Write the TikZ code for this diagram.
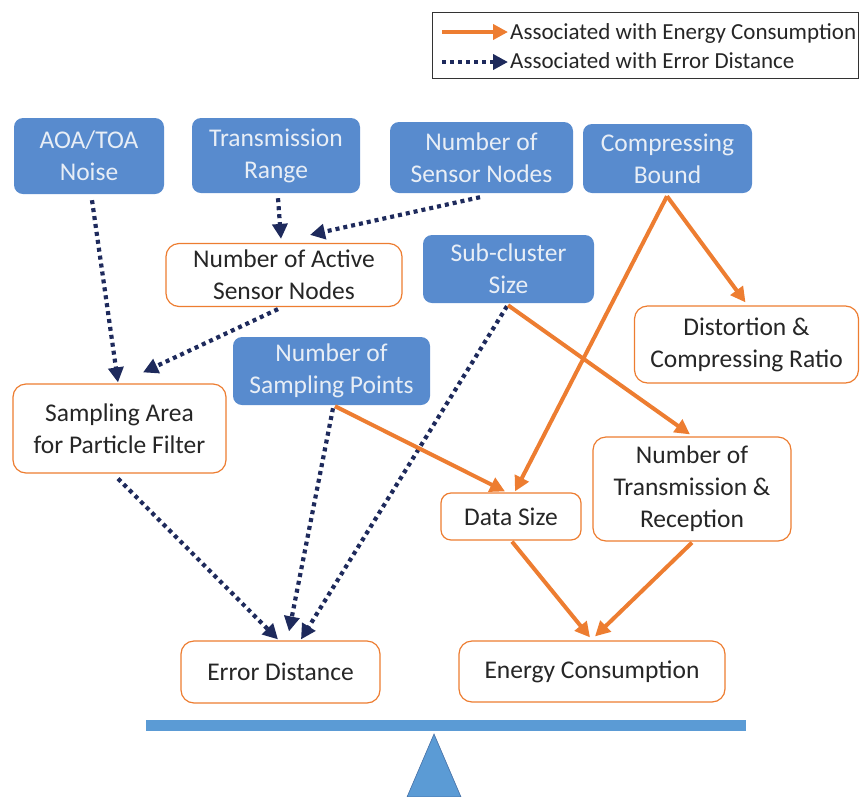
\documentclass[tikz,border=0pt]{standalone}
\usepackage{fontspec}
\setmainfont{Carlito}
\usetikzlibrary{arrows.meta,calc}
\definecolor{boxblue}{RGB}{88,139,206}
\definecolor{boxtext}{RGB}{232,238,246}
\definecolor{orng}{RGB}{237,125,49}
\definecolor{navy}{RGB}{30,42,92}
\definecolor{barblue}{RGB}{91,155,213}
\tikzset{
  x=1pt,y=-1pt,
  bluebox/.style={rectangle,rounded corners=9pt,fill=boxblue,text=boxtext,inner sep=0pt,align=center,
    font=\fontsize{25.5}{32}\selectfont},
  whitebox/.style={rectangle,rounded corners=13pt,draw=orng,line width=1.2pt,fill=white,text=black!85,inner sep=0pt,align=center,
    font=\fontsize{25.5}{32}\selectfont},
  energyarrow/.style={draw=orng,line width=4pt,-{Triangle[length=15pt,width=15pt]}},
  errorarrow/.style={draw=navy,line width=4.2pt,dash pattern=on 4pt off 4pt,-{Triangle[length=15pt,width=15pt]}},
  legendtext/.style={anchor=west,inner sep=0pt,text=black!85,font=\fontsize{23}{28}\selectfont},
}
\begin{document}
\begin{tikzpicture}
\useasboundingbox (0,0) rectangle (860,796);
% legend
\node[draw=black!80,line width=1pt,minimum width=426pt,minimum height=66pt,inner sep=0pt] (legend) at (645,45) {};
\coordinate (la1) at (442,32);
\coordinate (la2) at (508,32);
\coordinate (lb1) at (442,62);
\coordinate (lb2) at (508,62);
\draw[energyarrow] (la1) -- (la2);
\draw[errorarrow] (lb1) -- (lb2);
\node[legendtext] (lt1) at (510,33) {Associated with Energy Consumption};
\node[legendtext] (lt2) at (510,61) {Associated with Error Distance};
% blue boxes
\node[bluebox,minimum width=150pt,minimum height=76pt] (aoa) at (89,156) {AOA/TOA\\Noise};
\node[bluebox,minimum width=168pt,minimum height=75pt] (trange) at (276,155.5) {Transmission\\Range};
\node[bluebox,minimum width=183pt,minimum height=71pt] (nsn) at (481.5,157.5) {Number of\\Sensor Nodes};
\node[bluebox,minimum width=169pt,minimum height=69pt] (cbound) at (667.5,158.5) {Compressing\\Bound};
\node[bluebox,minimum width=171pt,minimum height=68pt] (subc) at (508.5,269) {Sub-cluster\\Size};
\node[bluebox,minimum width=197pt,minimum height=68pt] (nsp) at (331.5,371) {Number of\\Sampling Points};
% white boxes
\node[whitebox,minimum width=236pt,minimum height=63pt] (active) at (284,275) {Number of Active\\Sensor Nodes};
\node[whitebox,minimum width=224pt,minimum height=77pt] (distort) at (746.5,344.5) {Distortion \&\\Compressing Ratio};
\node[whitebox,minimum width=213pt,minimum height=89pt] (sarea) at (119.5,428.5) {Sampling Area\\for Particle Filter};
\node[whitebox,minimum width=140pt,minimum height=47pt,rounded corners=10pt] (dsize) at (511,516.5) {Data Size};
\node[whitebox,minimum width=198pt,minimum height=104pt] (ntr) at (692,489) {Number of\\Transmission \&\\Reception};
\node[whitebox,minimum width=199pt,minimum height=62pt] (errd) at (280.5,672) {Error Distance};
\node[whitebox,minimum width=266pt,minimum height=61pt] (energy) at (592,671.5) {Energy Consumption};
% error (dotted) connectors
\draw[errorarrow] ($(aoa.south)+(3,6)$) -- ($(sarea.north)+(-1.5,-1)$);
\draw[errorarrow] ($(trange.south)+(2,5)$) -- ($(active.north)+(-3,-4)$);
\draw[errorarrow] ($(nsn.south)+(-1.5,4)$) -- ($(active.north)+(26,-8)$);
\draw[errorarrow] ($(active.south)+(-6,2)$) -- ($(sarea.north)+(23.5,-11)$);
\draw[errorarrow] ($(sarea.south)+(-1.5,5)$) -- ($(errd.north)+(-2.5,-1)$);
\draw[errorarrow] ($(nsp.south)+(1.5,3)$) -- ($(errd.north)+(8.5,-9)$);
\draw[errorarrow] ($(subc.south)+(-1.5,3)$) -- ($(errd.north)+(20.5,-1)$);
% energy (orange) connectors
\draw[energyarrow] ($(cbound.south)+(-0.5,3)$) -- ($(distort.north)+(-1,-3)$);
\draw[energyarrow] ($(cbound.south)+(-0.5,3)$) -- ($(dsize.north)+(4,-1)$);
\draw[energyarrow] ($(subc.south)+(-0.5,2)$) -- ($(ntr.north)+(-2,-2)$);
\draw[energyarrow] ($(nsp.south)+(3.5,1)$) -- ($(dsize.north)+(-6,-1)$);
\draw[energyarrow] ($(dsize.south)+(1,1)$) -- ($(energy.north)+(-2,-3)$);
\draw[energyarrow] ($(ntr.south)+(0,1)$) -- ($(energy.north)+(3,-4)$);
% balance
\fill[barblue] (146,720) rectangle (746,731);
\filldraw[fill=barblue,draw=boxblue!80!black,line width=0.6pt] (434,734) -- (461,797) -- (407,797) -- cycle;
\end{tikzpicture}
\end{document}
